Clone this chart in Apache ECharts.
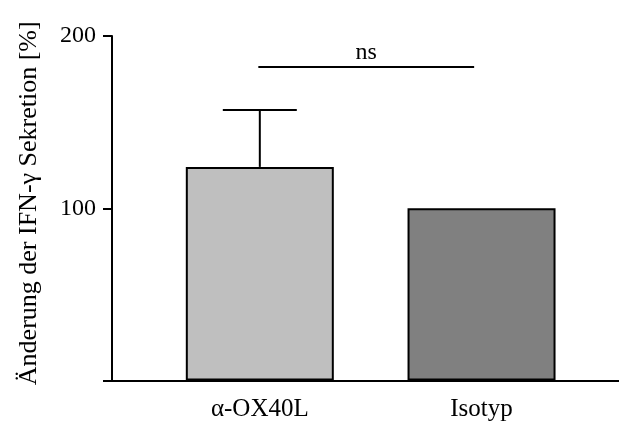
<!DOCTYPE html>
<html>
<head>
<meta charset="utf-8">
<script src="https://cdn.jsdelivr.net/npm/echarts@6/dist/echarts.min.js"></script>
<style>
  html, body { margin: 0; padding: 0; background: #fff; }
  #chart { width: 619px; height: 423px; }
</style>
</head>
<body>
<div id="chart"></div>
<script>
// Groups, their x positions, means and SEM
const categories = ['α-OX40L', 'Isotyp'];
const positions = [1, 2.5];
const means = [124, 100];
const errors = [33, 0];
const barColors = ['#bfbfbf', '#808080'];
const yTicks = [0, 100, 200];
// Significance bracket: from, to, height, text
const bracket = { from: 0.99, to: 2.45, y: 182, text: 'ns' };

const FONT = '"Liberation Serif", "Times New Roman", serif';

const chart = echarts.init(document.getElementById('chart'));

const barData = means.map((v, i) => ({
  value: [positions[i], v],
  itemStyle: { color: barColors[i] }
}));
const errData = means.map((v, i) => [positions[i], v, v + errors[i]]);

chart.setOption({
  animation: false,
  backgroundColor: '#fff',
  grid: { left: 112, right: 0, top: 36, bottom: 42.5 },
  xAxis: {
    type: 'value',
    min: 0,
    max: 3.43,
    splitLine: { show: false },
    axisLine: { show: true, onZero: false, lineStyle: { color: '#000', width: 2 } },
    axisTick: { show: false },
    axisLabel: {
      customValues: positions,
      formatter: (v) => {
        const i = positions.indexOf(v);
        return i >= 0 ? categories[i] : '';
      },
      color: '#000',
      fontFamily: FONT,
      fontSize: 25,
      margin: 16
    }
  },
  yAxis: {
    type: 'value',
    min: yTicks[0],
    max: yTicks[yTicks.length - 1],
    interval: 100,
    name: 'Änderung der IFN-γ Sekretion [%]',
    nameLocation: 'middle',
    nameGap: 70,
    nameTextStyle: { color: '#000', fontFamily: FONT, fontSize: 26, padding: [0, 0, 0, 10] },
    splitLine: { show: false },
    axisLine: { show: true, lineStyle: { color: '#000', width: 2 } },
    axisTick: { show: true, length: 9, lineStyle: { color: '#000', width: 2 } },
    axisLabel: {
      formatter: (v) => (v === 0 ? '' : String(v)),
      color: '#000',
      fontFamily: FONT,
      fontSize: 24,
      margin: 16
    }
  },
  series: [
    {
      type: 'bar',
      data: barData,
      barWidth: 148,
      itemStyle: { borderColor: '#000', borderWidth: 2 },
      markLine: {
        silent: true,
        symbol: 'none',
        lineStyle: { color: '#000', width: 2, type: 'solid' },
        label: {
          show: true,
          position: 'middle',
          formatter: bracket.text,
          color: '#000',
          fontFamily: FONT,
          fontSize: 24,
          distance: 2
        },
        data: [[
          { coord: [bracket.from, bracket.y] },
          { coord: [bracket.to, bracket.y] }
        ]]
      },
      z: 2
    },
    {
      type: 'custom',
      data: errData,
      z: 3,
      renderItem: (params, api) => {
        const x = api.value(0);
        const lo = api.coord([x, api.value(1)]);
        const hi = api.coord([x, api.value(2)]);
        if (Math.abs(hi[1] - lo[1]) < 0.5) return null;
        const half = 37;
        const style = { stroke: '#000', lineWidth: 2 };
        return {
          type: 'group',
          children: [
            { type: 'line', shape: { x1: lo[0], y1: lo[1], x2: hi[0], y2: hi[1] }, style },
            { type: 'line', shape: { x1: hi[0] - half, y1: hi[1], x2: hi[0] + half, y2: hi[1] }, style }
          ]
        };
      }
    }
  ]
});
</script>
</body>
</html>
